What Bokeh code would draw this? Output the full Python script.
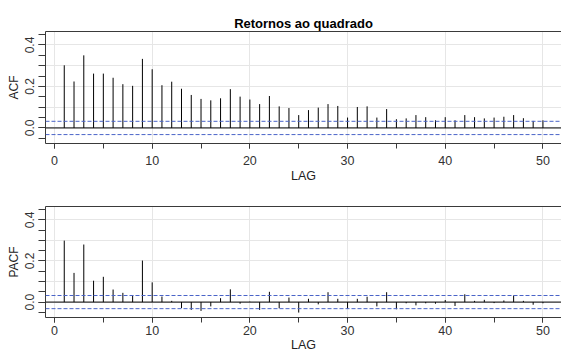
from bokeh.plotting import figure
from bokeh.layouts import column
from bokeh.models import (SingleIntervalTicker, FixedTicker, LinearAxis, Span,
                          ColumnDataSource, Range1d, PrintfTickFormatter)
from bokeh.embed import file_html
from bokeh.resources import INLINE

# ---- data ----
lags = list(range(1, 51))
acf = [0.302, 0.224, 0.350, 0.262, 0.262, 0.242, 0.211, 0.203, 0.333, 0.283,
       0.206, 0.223, 0.189, 0.159, 0.140, 0.133, 0.143, 0.187, 0.151, 0.137,
       0.115, 0.154, 0.104, 0.096, 0.062, 0.086, 0.098, 0.115, 0.106, 0.050,
       0.101, 0.104, 0.050, 0.091, 0.042, 0.046, 0.062, 0.052, 0.037, 0.052,
       0.037, 0.062, 0.052, 0.046, 0.050, 0.054, 0.062, 0.047, 0.034, 0.037]
pacf = [0.299, 0.142, 0.280, 0.104, 0.123, 0.061, 0.045, 0.034, 0.202, 0.096,
        0.027, 0.006, -0.029, -0.038, -0.043, -0.021, 0.019, 0.062, -0.008, 0.002,
        -0.038, 0.050, -0.030, 0.022, -0.051, 0.016, -0.011, 0.048, 0.016, -0.032,
        0.016, 0.026, -0.021, 0.048, -0.035, -0.006, -0.016, -0.006, -0.008, 0.010,
        -0.019, 0.038, 0.006, 0.011, -0.005, 0.008, 0.032, 0.006, -0.013, -0.006]
conf_limit = 0.032
x_tick_step = 10
y_tick_step = 0.2
title_text = "Retornos ao quadrado"
x_label = "LAG"

FONT = "Liberation Sans"
AX = "#3a3a3a"
GRID = "#e6e6e6"
BLUE = "#4a64c8"


def make_panel(values, ylabel, height, top_border, bottom_border, title=None,
               xlab_standoff=7, axlab_standoff=1):
    p = figure(width=561, height=height, output_backend="svg", toolbar_location=None,
               x_range=Range1d(-0.92, 51.9), y_range=Range1d(-0.075, 0.465),
               min_border_left=45, min_border_right=0,
               min_border_top=top_border, min_border_bottom=bottom_border,
               title=title)
    p.outline_line_color = None
    p.background_fill_color = "white"
    p.border_fill_color = "white"

    if title is not None:
        p.title.text_font = FONT
        p.title.text_font_size = "13px"
        p.title.text_font_style = "bold"
        p.title.align = "center"
        p.title.text_color = "black"
        p.title.standoff = 2

    # grid
    p.xgrid.ticker = SingleIntervalTicker(interval=x_tick_step)
    p.ygrid.ticker = SingleIntervalTicker(interval=0.1)
    p.grid.grid_line_color = GRID
    p.grid.grid_line_width = 1

    # x axis
    xa = p.xaxis[0]
    xa.ticker = SingleIntervalTicker(interval=x_tick_step, num_minor_ticks=2)
    xa.major_tick_out = 5
    xa.minor_tick_out = 5
    xa.major_tick_in = 0
    xa.minor_tick_in = 0
    xa.axis_line_color = AX
    xa.major_tick_line_color = AX
    xa.minor_tick_line_color = AX
    xa.major_label_text_font = FONT
    xa.major_label_text_font_size = "12.5px"
    xa.major_label_text_color = "#333333"
    xa.major_label_standoff = xlab_standoff
    xa.axis_label = x_label
    xa.axis_label_text_font = FONT
    xa.axis_label_text_font_size = "12.5px"
    xa.axis_label_text_font_style = "normal"
    xa.axis_label_text_color = "#222222"
    xa.axis_label_standoff = axlab_standoff

    # y axis
    ya = p.yaxis[0]
    ya.ticker = SingleIntervalTicker(interval=y_tick_step, num_minor_ticks=4)
    ya.formatter = PrintfTickFormatter(format="%.1f")
    ya.major_tick_out = 7
    ya.minor_tick_out = 7
    ya.major_tick_in = 0
    ya.minor_tick_in = 0
    ya.axis_line_color = AX
    ya.major_tick_line_color = AX
    ya.minor_tick_line_color = AX
    ya.major_label_orientation = "vertical"
    ya.major_label_text_font = FONT
    ya.major_label_text_font_size = "12px"
    ya.major_label_text_color = "#333333"
    ya.major_label_standoff = 4
    ya.axis_label = ylabel
    ya.axis_label_text_font = FONT
    ya.axis_label_text_font_size = "12px"
    ya.axis_label_text_font_style = "normal"
    ya.axis_label_text_color = "#222222"
    ya.axis_label_standoff = 2

    # top border of the box
    top_ax = LinearAxis(ticker=FixedTicker(ticks=[]), major_label_text_font_size="0px",
                        major_tick_out=0, minor_tick_out=0, major_tick_in=0,
                        minor_tick_in=0, axis_line_color=AX, major_label_standoff=0)
    p.add_layout(top_ax, "above")

    # confidence limits and zero line
    for loc, col, dash in [(conf_limit, BLUE, "4 2"), (-conf_limit, BLUE, "4 2"),
                           (0, "black", "solid")]:
        p.add_layout(Span(location=loc, dimension="width", line_color=col,
                          line_dash=dash, line_width=1))

    src = ColumnDataSource(dict(lag=lags, val=values, base=[0] * len(lags)))
    p.segment(x0="lag", y0="base", x1="lag", y1="val", source=src,
              line_color="black", line_width=1)
    return p


top = make_panel(acf, "ACF", 185, 31, 42, title=title_text,
                 xlab_standoff=7, axlab_standoff=1)
bottom = make_panel(pacf, "PACF", 169, 21, 36,
                    xlab_standoff=3, axlab_standoff=0)

layout = column(top, bottom, spacing=0)
open("out.html", "w").write(file_html(layout, INLINE))
